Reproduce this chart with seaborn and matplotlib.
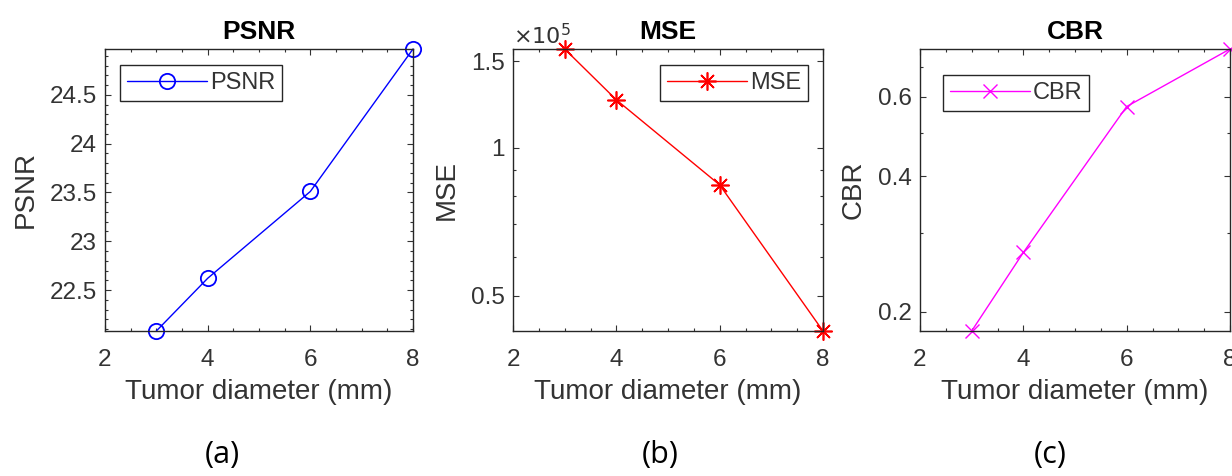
import matplotlib
matplotlib.use("Agg")
import matplotlib.pyplot as plt
import matplotlib.ticker as mticker
import seaborn as sns
import pandas as pd

diameters = [3, 4, 6, 8]
psnr = [22.08, 22.62, 23.51, 24.97]
mse = [1.59e5, 1.253e5, 0.841e5, 0.424e5]
cbr = [0.1815, 0.271, 0.571, 0.766]

xticks = [2, 4, 6, 8]
psnr_ticks = [22.5, 23, 23.5, 24, 24.5]
mse_ticks = [0.5e5, 1e5, 1.5e5]
cbr_ticks = [0.2, 0.4, 0.6]

sns.set_style("ticks")
plt.rcParams['font.family'] = ['Liberation Sans', 'DejaVu Sans']
TXT = '#333333'
plt.rcParams['text.color'] = TXT
plt.rcParams['axes.labelcolor'] = TXT
plt.rcParams['xtick.color'] = TXT
plt.rcParams['ytick.color'] = TXT

fig = plt.figure(figsize=(12.32, 4.76), dpi=100)
W, H = 1232, 476
def rect(l, r, t, b):
    return [l / W, 1 - b / H, (r - l) / W, (b - t) / H]

axA = fig.add_axes(rect(105, 413, 49, 331))
axB = fig.add_axes(rect(513, 823, 49, 331))
axC = fig.add_axes(rect(920, 1230, 49, 331))

df = pd.DataFrame({'d': diameters, 'PSNR': psnr, 'MSE': mse, 'CBR': cbr})

sns.lineplot(data=df, x='d', y='PSNR', ax=axA, color='blue', marker='o', markersize=11,
             markerfacecolor='none', markeredgecolor='blue', markeredgewidth=1.3,
             linewidth=1.0, label='PSNR', clip_on=False)
sns.lineplot(data=df, x='d', y='MSE', ax=axB, color='red', marker=(8, 2, 0), markersize=13,
             markeredgecolor='red', markeredgewidth=1.2,
             linewidth=1.0, label='MSE', clip_on=False)
sns.lineplot(data=df, x='d', y='CBR', ax=axC, color='magenta', marker='x', markersize=10,
             markeredgecolor='magenta', markeredgewidth=1.0,
             linewidth=1.0, label='CBR', clip_on=False)

axB.set_yscale('log')
axC.set_yscale('log')

axA.set_ylim(min(psnr), max(psnr))
axB.set_ylim(min(mse), max(mse))
axC.set_ylim(min(cbr), max(cbr))

axA.set_yticks(psnr_ticks)
axA.set_yticklabels([f'{t:g}' for t in psnr_ticks])
axB.set_yticks(mse_ticks)
axB.yaxis.set_major_formatter(mticker.FuncFormatter(lambda v, p: f'{v/1e5:g}'))
axB.yaxis.set_minor_locator(mticker.LogLocator(base=10, subs=range(1, 10)))
axB.yaxis.set_minor_formatter(mticker.NullFormatter())
axC.set_yticks(cbr_ticks)
axC.yaxis.set_major_formatter(mticker.FuncFormatter(lambda v, p: f'{v:g}'))
axC.yaxis.set_minor_locator(mticker.LogLocator(base=10, subs=range(1, 10)))
axC.yaxis.set_minor_formatter(mticker.NullFormatter())

for ax, title, ylab in [(axA, 'PSNR', 'PSNR'), (axB, 'MSE', 'MSE'), (axC, 'CBR', 'CBR')]:
    ax.set_xlim(2, 8)
    ax.set_xticks(xticks)
    ax.set_xlabel('Tumor diameter (mm)', fontsize=20, labelpad=6)
    ax.set_ylabel(ylab, fontsize=20, labelpad=8)
    ax.set_title(title, fontsize=19, fontweight='bold', color='black', pad=7)
    ax.tick_params(axis='both', which='both', direction='in', top=True, right=True,
                   labelsize=17.5, width=0.8)
    ax.tick_params(axis='y', which='major', length=4, pad=6)
    ax.tick_params(axis='x', which='major', length=4, pad=13)
    ax.tick_params(axis='both', which='minor', length=2)
    ax.xaxis.set_minor_locator(mticker.AutoMinorLocator(4))
    for s in ax.spines.values():
        s.set_visible(True)
        s.set_linewidth(1.0)
        s.set_color('#262626')

axA.yaxis.set_minor_locator(mticker.AutoMinorLocator(5))

axB.text(0.0, 1.0, r'$\times10^{5}$', transform=axB.transAxes, fontsize=16,
         ha='left', va='bottom', color=TXT)

legkw = dict(frameon=True, fancybox=False, framealpha=1, edgecolor='#262626',
             fontsize=17, handlelength=3.4, handletextpad=0.1, borderpad=0.3,
             borderaxespad=0)
la = axA.legend(loc='upper left', bbox_to_anchor=((120 - 105) / 308, 1 - (65 - 49) / 282), **legkw)
lb = axB.legend(loc='upper right', bbox_to_anchor=((808 - 513) / 310, 1 - (65 - 49) / 282), **legkw)
lc = axC.legend(loc='upper left', bbox_to_anchor=((943 - 920) / 310, 1 - (75 - 49) / 282), **legkw)
for lg in (la, lb, lc):
    lg.get_frame().set_linewidth(1.0)

for xc, lab in [(222, '(a)'), (660, '(b)'), (1050, '(c)')]:
    fig.text(xc / W, 1 - 455 / H, lab, fontsize=22, ha='center', va='center',
             family=['Open Sans', 'DejaVu Sans'], color='black')

fig.savefig('out.png', dpi=100, facecolor='white')
